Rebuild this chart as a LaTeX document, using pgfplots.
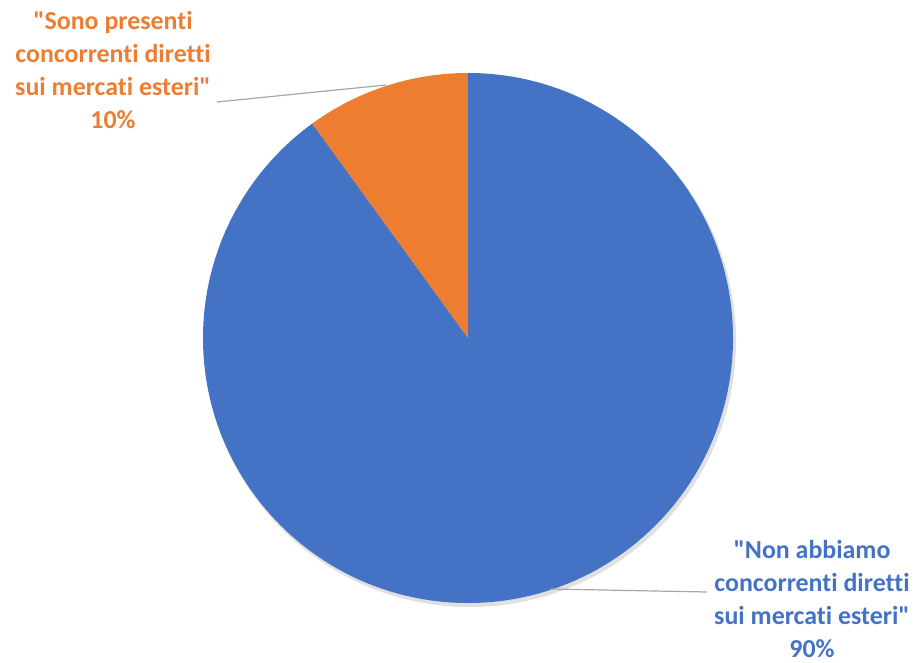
\documentclass[border=0pt]{standalone}
\usepackage{fontspec}
\setmainfont{Carlito}
\newfontfamily\lab{Carlito}[Ligatures={NoCommon}]
\usepackage{pgfplots}
\usepackage{pgfplotstable}
\pgfplotsset{compat=1.18}
\definecolor{cblue}{HTML}{4472C4}
\definecolor{corange}{HTML}{ED7D31}
\definecolor{cgrey}{HTML}{A6A6A6}
\pgfplotstableread{
label value
Non 90
Sono 10
}\piedata
\pgfplotstablegetelem{0}{value}\of\piedata
\let\va\pgfplotsretval
\pgfplotstablegetelem{1}{value}\of\piedata
\let\vb\pgfplotsretval
\pgfmathsetmacro{\tot}{\va+\vb}
\pgfmathsetmacro{\fa}{\va/\tot}
\pgfmathsetmacro{\fb}{\vb/\tot}
\pgfmathsetmacro{\aend}{90-360*\fa}
\pgfmathsetmacro{\bend}{\aend-360*\fb}
\begin{document}
\begin{tikzpicture}
\begin{axis}[
  x=1bp, y=1bp, scale only axis,
  xmin=0, xmax=916, ymin=0, ymax=663,
  hide axis, clip=false,
]
\path (axis cs:0,0) rectangle (axis cs:916,663);
% soft shadow
\fill[black!12] (axis cs:470,322) circle[radius=266bp];
\fill[cblue] (axis cs:468,325) -- ++(90:265bp) arc[start angle=90, end angle=\aend, radius=265bp] -- cycle;
\fill[corange] (axis cs:468,325) -- ++(\aend:265bp) arc[start angle=\aend, end angle=\bend, radius=265bp] -- cycle;
\draw[cgrey, line width=1.2bp] (axis cs:217,561) -- (axis cs:386,578);
\draw[cgrey, line width=1.2bp] (axis cs:550,74) -- (axis cs:707,71);
\node[align=center, text=corange, font=\lab\fontsize{26}{33}\selectfont\bfseries] at (axis cs:113,593)
  {"Sono presenti\\concorrenti diretti\\sui mercati esteri"\\10\%};
\node[align=center, text=cblue, font=\lab\fontsize{26}{33}\selectfont\bfseries] at (axis cs:812,64)
  {"Non abbiamo\\concorrenti diretti\\sui mercati esteri"\\90\%};
\end{axis}
\end{tikzpicture}
\end{document}
